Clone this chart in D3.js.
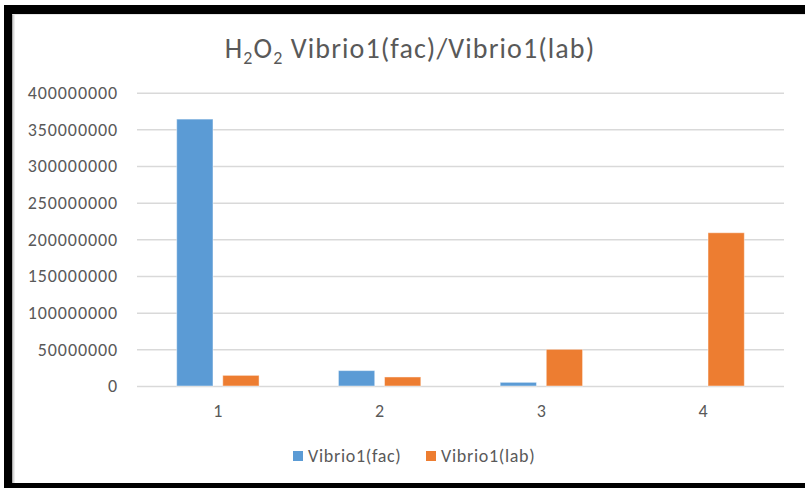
<!DOCTYPE html>
<html>
<head>
<meta charset="utf-8">
<script src="https://cdn.jsdelivr.net/npm/d3@7"></script>
<style>
  html, body { margin: 0; padding: 0; background: #fff; }
  svg { display: block; }
  text { font-family: Calibri, Carlito, Lato, "Open Sans", sans-serif; }
</style>
</head>
<body>
<svg id="chart" width="805" height="488"></svg>
<script>
// ---- data ----
const categories = ["1", "2", "3", "4"];
const seriesNames = ["Vibrio1(fac)", "Vibrio1(lab)"];
const facValues = [364000000, 21000000, 5000000, 0];
const labValues = [14500000, 12300000, 50000000, 209000000];
const yTicks = [0, 50000000, 100000000, 150000000, 200000000, 250000000, 300000000, 350000000, 400000000];
const colors = ["#5b9bd5", "#ed7d31"];

const svg = d3.select("#chart");
const W = 805, H = 488;

svg.append("rect").attr("x", 0).attr("y", 0).attr("width", W).attr("height", H).attr("fill", "#fff");

const plot = { left: 137, right: 784, top: 92.7, bottom: 386 };

const y = d3.scaleLinear().domain([0, 400000000]).range([plot.bottom, plot.top]);
const x0 = d3.scaleBand().domain(categories).range([plot.left, plot.right]).paddingInner(0).paddingOuter(0);
const x1 = d3.scaleBand().domain(seriesNames).range([0, x0.bandwidth()]).paddingInner(0.2126).paddingOuter(0.861);

// gridlines + y labels
const yAxis = d3.axisLeft(y).tickValues(yTicks).tickFormat(d3.format("d"))
  .tickSize(-(plot.right - plot.left)).tickPadding(19);
const gy = svg.append("g").attr("transform", `translate(${plot.left},0)`).call(yAxis);
gy.select(".domain").remove();
gy.selectAll(".tick line").attr("stroke", "#d9d9d9").attr("stroke-width", 1.5);
gy.selectAll(".tick text").attr("fill", "#595959").style("font-size", "18px")
  .style("letter-spacing", "0.9px")
  .attr("font-family", "Calibri, Carlito, Lato, sans-serif");

// bars
const rows = categories.map((c, i) => ({ cat: c, vals: [facValues[i], labValues[i]] }));
const groups = svg.append("g").selectAll("g").data(rows).join("g")
  .attr("transform", d => `translate(${x0(d.cat)},0)`);
groups.selectAll("rect").data(d => d.vals.map((v, k) => ({ k, v })).filter(e => e.v > 0)).join("rect")
  .attr("x", e => x1(seriesNames[e.k]))
  .attr("width", x1.bandwidth())
  .attr("y", e => y(e.v))
  .attr("height", e => y(0) - y(e.v))
  .attr("fill", e => colors[e.k])
  .attr("stroke", "#ffffff").attr("stroke-opacity", 0.45).attr("stroke-width", 1);

// x axis labels
const xAxis = d3.axisBottom(x0).tickSize(0).tickPadding(18);
const gx = svg.append("g").attr("transform", `translate(0,${plot.bottom})`).call(xAxis);
gx.select(".domain").remove();
gx.selectAll(".tick text").attr("fill", "#595959").style("font-size", "18px")
  .attr("font-family", "Calibri, Carlito, Lato, sans-serif");

// title
const title = svg.append("text").attr("x", 410).attr("y", 58).attr("text-anchor", "middle")
  .attr("fill", "#595959").style("font-size", "28px").style("letter-spacing", "1.1px");
title.append("tspan").text("H");
title.append("tspan").text("2").style("font-size", "18px").attr("dy", 6);
title.append("tspan").text("O").attr("dy", -6);
title.append("tspan").text("2").style("font-size", "18px").attr("dy", 6);
title.append("tspan").text(" Vibrio1(fac)/Vibrio1(lab)").attr("dy", -6);

// legend
const legend = svg.append("g");
const legX = [293, 426];
seriesNames.forEach((name, k) => {
  legend.append("rect").attr("x", legX[k]).attr("y", 451).attr("width", 10).attr("height", 10).attr("fill", colors[k]);
  legend.append("text").attr("x", legX[k] + 15).attr("y", 456).attr("dy", "0.35em")
    .attr("fill", "#595959").style("font-size", "18px").style("letter-spacing", "0.7px").text(name);
});

// black border frame
svg.append("rect").attr("x", 4).attr("y", 5).attr("width", W - 4).attr("height", 9).attr("fill", "#000");
svg.append("rect").attr("x", 4).attr("y", 5).attr("width", 8.5).attr("height", H - 5).attr("fill", "#000");
svg.append("rect").attr("x", 4).attr("y", 483).attr("width", W - 4).attr("height", 5).attr("fill", "#000");
svg.append("line").attr("x1", 13.5).attr("x2", 13.5).attr("y1", 14).attr("y2", 483).attr("stroke", "#d9d9d9").attr("stroke-width", 2);
svg.append("line").attr("x1", 12.5).attr("x2", W).attr("y1", 14.5).attr("y2", 14.5).attr("stroke", "#e6e6e6").attr("stroke-width", 1);
</script>
</body>
</html>
